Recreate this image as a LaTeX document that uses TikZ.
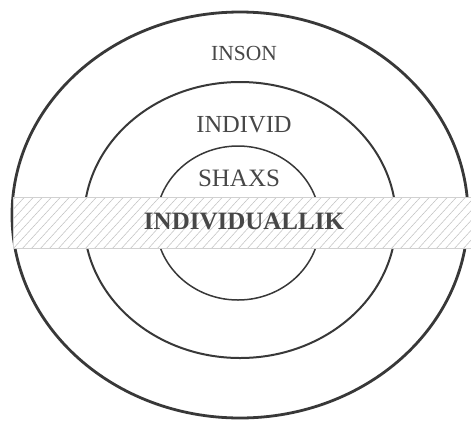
\documentclass[tikz,border=0pt]{standalone}
\usepackage{fontspec}
\setmainfont{Liberation Serif}
\begin{document}
\begin{tikzpicture}[x=1pt,y=-1pt,
  ring/.style={draw=black!78},
  lbl/.style={text=black!72,inner sep=0pt},
  hatch/.style={draw=black!25,line width=0.5pt}]
\useasboundingbox (0,0) rectangle (471,424);
\fill[white] (0,0) rectangle (471,424);
% ellipses
\draw[ring,line width=2.8pt] (240,215) ellipse [x radius=228, y radius=203];
\draw[ring,line width=2pt] (240,220) ellipse [x radius=156, y radius=138];
\draw[ring,line width=1.5pt] (238,223) ellipse [x radius=82, y radius=77];
% band
\coordinate (bandA) at (13,197);
\coordinate (bandB) at (471,248);
\fill[white] (bandA) rectangle (bandB);
\begin{scope}
  \clip (bandA) rectangle (bandB);
  \foreach \i in {-60,-51,...,480} {
    \draw[hatch] (\i,250) -- ++(55,-60);
  }
\end{scope}
\draw[draw=black!18,line width=0.6pt] (bandA) rectangle (bandB);
% labels
\node[lbl,font=\fontsize{21.5}{23}\selectfont] (inson) at (244,53) {INSON};
\node[lbl,font=\fontsize{24.5}{26}\selectfont] (individ) at (244,125) {INDIVID};
\node[lbl,font=\fontsize{25}{27}\selectfont] (shaxs) at (239,178) {SHAXS};
\node[lbl,font=\bfseries\fontsize{25}{27}\selectfont] (indiv) at (244,221) {INDIVIDUALLIK};
\end{tikzpicture}
\end{document}
